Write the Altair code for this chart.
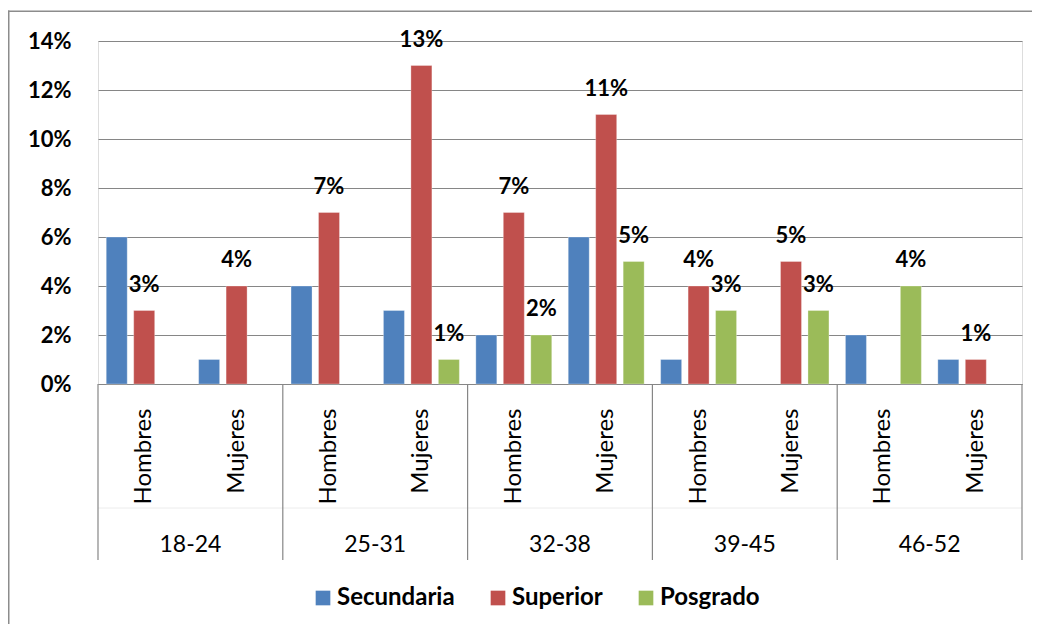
import altair as alt
import pandas as pd

groups = ["18-24", "25-31", "32-38", "39-45", "46-52"]
sexes = ["Hombres", "Mujeres"]
series = ["Secundaria", "Superior", "Posgrado"]
colors = ["#4F81BD", "#C0504D", "#9BBB59"]

# percentages per subcategory (group x sex), None = no bar
secundaria = [6, 1, 4, 3, 2, 6, 1, None, 2, 1]
superior = [3, 4, 7, 13, 7, 11, 4, 5, None, 1]
posgrado = [None, None, None, 1, 2, 5, 3, 3, 4, None]
y_ticks = [0, 0.02, 0.04, 0.06, 0.08, 0.10, 0.12, 0.14]

keys = [f"{g}|{s}" for g in groups for s in sexes]

rows = []
for name, vals in zip(series, [secundaria, superior, posgrado]):
    for k, v in zip(keys, vals):
        if v is not None:
            rows.append({"key": k, "serie": name, "value": v / 100})
df = pd.DataFrame(rows)

W, H = 924, 343
FONT = "Lato"

xscale = alt.Scale(domain=keys, paddingInner=0, paddingOuter=0)
xoff = alt.XOffset("serie:N", sort=series,
                   scale=alt.Scale(domain=series, paddingInner=0.236, paddingOuter=0.3))
yscale = alt.Scale(domain=[0, 0.14], nice=False)

one = pd.DataFrame({"a": [0]})
border_top = alt.Chart(one).mark_rect(color="#8c8c8c", strokeWidth=0).encode(
    x=alt.value(-90), x2=alt.value(W + 10), y=alt.value(-30.5), y2=alt.value(-29))
border_left = alt.Chart(one).mark_rect(color="#8c8c8c", strokeWidth=0).encode(
    x=alt.value(-90), x2=alt.value(-88.5), y=alt.value(-30.5), y2=alt.value(H + 240))

bars = alt.Chart(df).mark_bar(stroke="white", strokeWidth=0.5, strokeOpacity=0.6).encode(
    x=alt.X("key:N", sort=keys, scale=xscale, title=None,
            axis=alt.Axis(labelExpr="split(datum.label, '|')[1]", labelAngle=270,
                          ticks=False, domainColor="#868686", domainWidth=1.2,
                          labelFont=FONT, labelFontSize=24, labelColor="black",
                          labelPadding=24, labelOverlap=False, grid=False)),
    xOffset=xoff,
    y=alt.Y("value:Q", scale=yscale, title=None,
            axis=alt.Axis(values=y_ticks, format=".0%", domain=False, ticks=False,
                          grid=True, gridColor="#868686", gridWidth=1.2,
                          labelFont=FONT, labelFontSize=22, labelFontWeight="bold",
                          labelColor="black", labelPadding=27)),
    color=alt.Color("serie:N", sort=series,
                    scale=alt.Scale(domain=series, range=colors),
                    legend=alt.Legend(title=None, orient="none", direction="horizontal",
                                      legendX=213, legendY=545,
                                      symbolType="square", symbolSize=215,
                                      symbolStrokeWidth=0, symbolOpacity=1,
                                      labelFont=FONT, labelFontSize=24,
                                      labelFontWeight="bold", labelColor="black",
                                      labelOffset=2, columnPadding=31)),
)

labels = alt.Chart(df).transform_filter(
    alt.datum.serie != "Secundaria"
).mark_text(font=FONT, fontSize=22, fontWeight="bold", color="black",
            baseline="alphabetic", dy=-19).encode(
    x=alt.X("key:N", sort=keys, scale=xscale),
    xOffset=xoff,
    y=alt.Y("value:Q", scale=yscale),
    text=alt.Text("value:Q", format=".0%"),
)

left_edges = pd.DataFrame({"key": [f"{g}|{sexes[0]}" for g in groups]})
right_edge = pd.DataFrame({"key": [keys[-1]]})
group_df = pd.DataFrame({"key": [f"{g}|{sexes[1]}" for g in groups], "grp": groups})

sep_left = alt.Chart(left_edges).mark_rule(color="#868686", strokeWidth=1.2).encode(
    x=alt.X("key:N", sort=keys, scale=xscale, bandPosition=0),
    y=alt.value(H), y2=alt.value(H + 176),
)
sep_right = alt.Chart(right_edge).mark_rule(color="#868686", strokeWidth=1.2).encode(
    x=alt.X("key:N", sort=keys, scale=xscale, bandPosition=1),
    y=alt.value(H), y2=alt.value(H + 176),
)
faint = alt.Chart(one).mark_rule(color="#ececec", strokeWidth=1).encode(
    x=alt.value(0), x2=alt.value(W), y=alt.value(H + 124),
)
group_text = alt.Chart(group_df).mark_text(
    font=FONT, fontSize=23, color="black", baseline="alphabetic"
).encode(
    x=alt.X("key:N", sort=keys, scale=xscale, bandPosition=0),
    y=alt.value(H + 168),
    text="grp:N",
)

chart = alt.layer(border_top, border_left, faint, bars, labels, sep_left, sep_right,
                  group_text).properties(
    width=W, height=H,
    autosize=alt.AutoSizeParams(type="none"),
    padding={"left": 90, "top": 33, "right": 10, "bottom": 240},
).configure_view(stroke=None).configure(background="white")

chart.save("out.html", embed_options={"renderer": "svg", "actions": False})
